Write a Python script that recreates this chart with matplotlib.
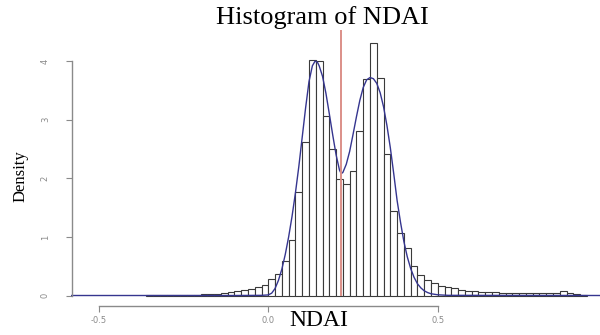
import matplotlib
matplotlib.use("Agg")
import matplotlib.pyplot as plt
import numpy as np

# histogram breaks (width 0.02) and bar heights
breaks = [-0.36, -0.34, -0.32, -0.30, -0.28, -0.26, -0.24, -0.22, -0.20, -0.18,
          -0.16, -0.14, -0.12, -0.10, -0.08, -0.06, -0.04, -0.02, 0.00, 0.02,
          0.04, 0.06, 0.08, 0.10, 0.12, 0.14, 0.16, 0.18, 0.20, 0.22,
          0.24, 0.26, 0.28, 0.30, 0.32, 0.34, 0.36, 0.38, 0.40, 0.42,
          0.44, 0.46, 0.48, 0.50, 0.52, 0.54, 0.56, 0.58, 0.60, 0.62,
          0.64, 0.66, 0.68, 0.70, 0.72, 0.74, 0.76, 0.78, 0.80, 0.82,
          0.84, 0.86, 0.88, 0.90, 0.92, 0.94]
density = [0.002, 0.003, 0.005, 0.006, 0.008, 0.010, 0.012, 0.015, 0.020, 0.025,
           0.030, 0.040, 0.055, 0.070, 0.090, 0.110, 0.140, 0.185, 0.28, 0.37,
           0.59, 0.94, 1.76, 2.62, 4.02, 4.00, 3.06, 2.50, 1.98, 1.90,
           2.12, 2.80, 3.70, 4.31, 3.72, 2.42, 1.44, 1.07, 0.81, 0.50,
           0.35, 0.26, 0.21, 0.17, 0.15, 0.12, 0.10, 0.085, 0.075, 0.065,
           0.06, 0.055, 0.05, 0.05, 0.045, 0.045, 0.045, 0.045, 0.045, 0.045,
           0.05, 0.075, 0.045, 0.02, 0.01]

# smoothed density curve
kde_x = [-0.58, -0.30, -0.10, -0.02, 0.00, 0.01, 0.02, 0.03, 0.04, 0.05,
         0.06, 0.07, 0.08, 0.09, 0.10, 0.11, 0.12, 0.13, 0.138, 0.145,
         0.15, 0.16, 0.17, 0.18, 0.19, 0.20, 0.21, 0.215, 0.22, 0.23,
         0.24, 0.25, 0.26, 0.27, 0.28, 0.29, 0.30, 0.31, 0.32, 0.33,
         0.34, 0.35, 0.36, 0.37, 0.38, 0.39, 0.40, 0.41, 0.42, 0.43,
         0.44, 0.45, 0.46, 0.47, 0.48, 0.50, 0.53, 0.98]
kde_y = [0, 0, 0, 0.003, 0.01, 0.04, 0.12, 0.26, 0.45, 0.70,
         1.00, 1.35, 1.75, 2.20, 2.70, 3.20, 3.65, 3.92, 4.00, 3.98,
         3.92, 3.74, 3.45, 3.10, 2.74, 2.40, 2.14, 2.08, 2.10, 2.24,
         2.46, 2.75, 3.05, 3.33, 3.55, 3.68, 3.72, 3.70, 3.62, 3.46,
         3.22, 2.90, 2.52, 2.08, 1.62, 1.25, 0.92, 0.66, 0.46, 0.31,
         0.20, 0.13, 0.08, 0.05, 0.03, 0.012, 0.003, 0]

cutoff = 0.213

fig = plt.figure(figsize=(6, 3.35), dpi=100)
ax = fig.add_axes([0, 0, 1, 1])
ax.set_xlim(-0.7915, 0.9785)
ax.set_ylim(-0.674, 5.043)

edges = np.array(breaks)
ax.bar(edges[:-1], density, width=np.diff(edges), align='edge',
       facecolor='white', edgecolor='#3a3a3a', linewidth=0.8)
ax.plot(kde_x, kde_y, color='#35358f', lw=1.0)
ax.vlines(cutoff, 0, 4.53, color='#dc8f88', lw=1.4)

# R style axes
for s in ['top', 'right']:
    ax.spines[s].set_visible(False)
ax.spines['left'].set_position(('data', -0.579))
ax.spines['left'].set_bounds(0, 4)
ax.spines['bottom'].set_position(('data', -0.176))
ax.spines['bottom'].set_bounds(-0.5, 0.5)
for s in ['left', 'bottom']:
    ax.spines[s].set_color('#8a8a8a')
    ax.spines[s].set_linewidth(1.0)

ax.set_xticks([-0.5, 0.0, 0.5])
ax.set_xticklabels(['-0.5', '0.0', '0.5'])
ax.set_yticks([0, 1, 2, 3, 4])
ax.set_yticklabels(['0', '1', '2', '3', '4'], rotation=90, va='center')
ax.tick_params(axis='both', colors='#8a8a8a', labelsize=6, length=4, width=0.8,
               labelcolor='#8a8a8a')
ax.tick_params(axis='y', pad=12)
ax.tick_params(axis='x', pad=3)

fig.text(322 / 600, 1 - 18 / 335, 'Histogram of NDAI', family='Liberation Serif',
         fontsize=19, ha='center', va='center')
fig.text(319 / 600, 1 - 321 / 335, 'NDAI', family='Liberation Serif',
         fontsize=17, ha='center', va='center')
fig.text(21 / 600, 1 - 176 / 335, 'Density', family='Liberation Serif',
         fontsize=12, ha='center', va='center', rotation=90)

fig.savefig('out.png', dpi=100)
